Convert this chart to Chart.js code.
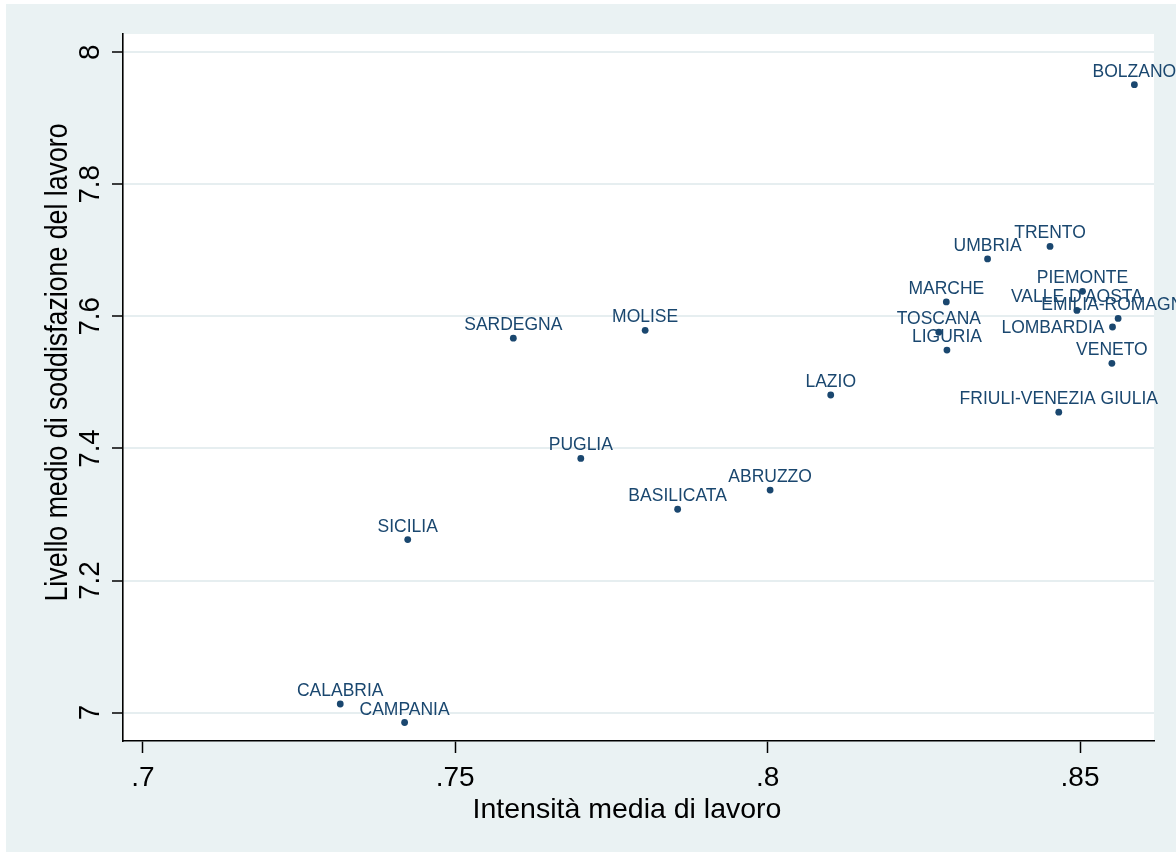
<!DOCTYPE html>
<html>
<head>
<meta charset="utf-8">
<script src="https://cdn.jsdelivr.net/npm/chart.js@4"></script>
<style>
  body { margin: 0; background: #fff; }
  #box { width: 1176px; height: 852px; }
</style>
</head>
<body>
<div id="box"><canvas id="grafico" width="1176" height="852"></canvas></div>
<script>
// dati (regioni italiane)
var regioni = ['PIEMONTE', "VALLE D'AOSTA", 'LOMBARDIA', 'BOLZANO', 'TRENTO', 'VENETO',
  'FRIULI-VENEZIA GIULIA', 'LIGURIA', 'EMILIA-ROMAGNA', 'TOSCANA', 'UMBRIA', 'MARCHE',
  'LAZIO', 'ABRUZZO', 'MOLISE', 'CAMPANIA', 'PUGLIA', 'BASILICATA', 'CALABRIA', 'SICILIA', 'SARDEGNA'];

var intensita = [0.8504, 0.8495, 0.8552, 0.8587, 0.8452, 0.8551,
  0.8466, 0.8287, 0.8561, 0.8274, 0.8352, 0.8286,
  0.8101, 0.8004, 0.7804, 0.7419, 0.7701, 0.7856, 0.7316, 0.7424, 0.7593];

var soddisfazione = [7.638, 7.609, 7.584, 7.951, 7.706, 7.529,
  7.455, 7.549, 7.597, 7.576, 7.687, 7.622,
  7.481, 7.337, 7.579, 6.985, 7.385, 7.308, 7.013, 7.262, 7.567];

var tickX = [0.7, 0.75, 0.8, 0.85];
var tickLabelX = ['.7', '.75', '.8', '.85'];
var tickY = [7, 7.2, 7.4, 7.6, 7.8, 8];
var tickLabelY = ['7', '7.2', '7.4', '7.6', '7.8', '8'];

var titoloX = 'Intensità media di lavoro';
var titoloY = 'Livello medio di soddisfazione del lavoro';

// etichette a sinistra del punto (le altre sopra)
var etichetteSinistra = ['LOMBARDIA'];

var sfondo = '#EAF2F3';
var navy = '#1a476f';
var fontNome = '"Liberation Sans", Arial, sans-serif';

var punti = [];
for (var i = 0; i < regioni.length; i++) {
  punti.push({ x: intensita[i], y: soddisfazione[i] });
}

// sfondo stile stata
var pluginSfondo = {
  id: 'sfondo',
  beforeDraw: function(chart) {
    var ctx = chart.ctx, a = chart.chartArea;
    ctx.save();
    ctx.fillStyle = '#fff';
    ctx.fillRect(0, 0, chart.width, chart.height);
    ctx.fillStyle = sfondo;
    ctx.fillRect(6, 4, chart.width - 6, chart.height - 4);
    ctx.fillStyle = '#fff';
    ctx.fillRect(a.left, a.top, a.right - a.left, a.bottom - a.top);
    ctx.restore();
  }
};

// etichette dei punti
var pluginEtichette = {
  id: 'etichette',
  afterDatasetsDraw: function(chart) {
    var ctx = chart.ctx;
    var meta = chart.getDatasetMeta(0);
    ctx.save();
    ctx.font = '17.5px ' + fontNome;
    ctx.fillStyle = navy;
    ctx.textBaseline = 'alphabetic';
    meta.data.forEach(function(el, i) {
      if (etichetteSinistra.indexOf(regioni[i]) >= 0) {
        ctx.textAlign = 'right';
        ctx.fillText(regioni[i], el.x - 8, el.y + 6);
      } else {
        ctx.textAlign = 'center';
        ctx.fillText(regioni[i], el.x, el.y - 8);
      }
    });
    ctx.restore();
  }
};

// tick labels e titoli
var pluginAssi = {
  id: 'assi',
  afterDraw: function(chart) {
    var ctx = chart.ctx;
    var sx = chart.scales.x, sy = chart.scales.y;
    ctx.save();
    ctx.fillStyle = '#000';
    ctx.textBaseline = 'alphabetic';
    ctx.textAlign = 'center';

    ctx.font = '28px ' + fontNome;
    tickX.forEach(function(v, i) {
      ctx.fillText(tickLabelX[i], sx.getPixelForValue(v), 786);
    });

    ctx.font = '28.5px ' + fontNome;
    ctx.fillText(titoloX, 627, 818);

    ctx.font = '30px ' + fontNome;
    tickY.forEach(function(v, i) {
      var y = sy.getPixelForValue(v);
      var w = ctx.measureText(tickLabelY[i]).width;
      ctx.save();
      ctx.translate(98.5, y);
      ctx.rotate(-Math.PI / 2);
      ctx.fillText(tickLabelY[i], 0, 0, w * 0.92);
      ctx.restore();
    });

    ctx.font = '32px ' + fontNome;
    ctx.save();
    ctx.translate(67, 362.5);
    ctx.rotate(-Math.PI / 2);
    ctx.fillText(titoloY, 0, 0, 478);
    ctx.restore();

    ctx.restore();
  }
};

new Chart(document.getElementById('grafico'), {
  type: 'scatter',
  data: {
    datasets: [{
      data: punti,
      backgroundColor: navy,
      borderWidth: 0,
      pointRadius: 3.4,
      pointHoverRadius: 3.4
    }]
  },
  options: {
    responsive: false,
    animation: false,
    devicePixelRatio: 1,
    layout: { padding: { top: 34, right: 22, left: 0, bottom: 0 } },
    plugins: { legend: { display: false }, tooltip: { enabled: false } },
    scales: {
      x: {
        type: 'linear',
        min: 0.69683,
        max: 0.86184,
        afterBuildTicks: function(s) { s.ticks = tickX.map(function(v) { return { value: v }; }); },
        afterFit: function(s) { s.height = 111; },
        ticks: { display: false },
        grid: { drawOnChartArea: false, drawTicks: true, tickLength: 12, tickColor: '#000', tickWidth: 1.5 },
        border: { color: '#000', width: 1.6 }
      },
      y: {
        type: 'linear',
        min: 6.957,
        max: 8.0277,
        afterBuildTicks: function(s) { s.ticks = tickY.map(function(v) { return { value: v }; }); },
        afterFit: function(s) { s.width = 123; },
        ticks: { display: false },
        grid: { color: '#e6eef0', lineWidth: 2, drawTicks: true, tickLength: 11, tickColor: '#000', tickWidth: 1.5 },
        border: { color: '#000', width: 1.6 }
      }
    }
  },
  plugins: [pluginSfondo, pluginEtichette, pluginAssi]
});
</script>
</body>
</html>
